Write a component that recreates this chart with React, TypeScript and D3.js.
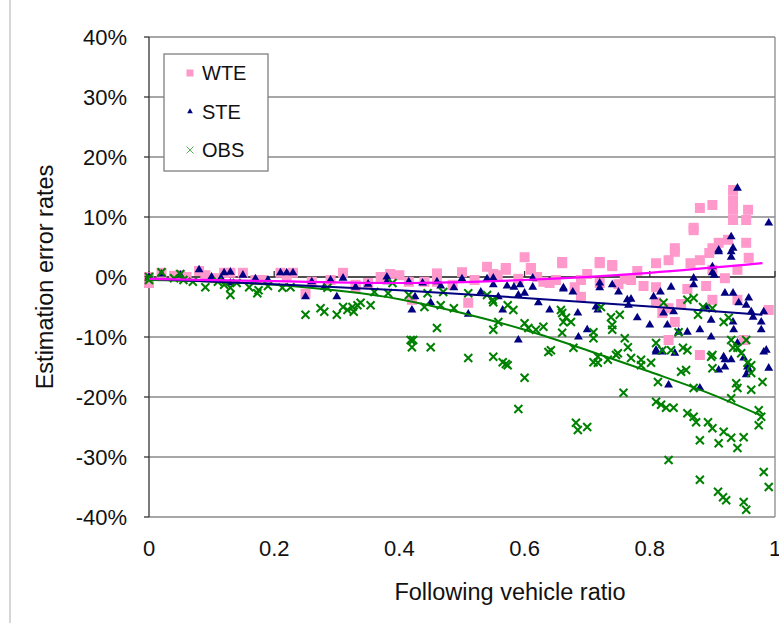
import * as d3 from "d3";

// [following vehicle ratio, estimation error %]
const wte: [number, number][] = [
  [0, 0], [0, -1], [0.02, 0.7], [0.04, 0.2], [0.05, 0.3], [0.06, 0], [0.08, 1], [0.09, 0.3], [0.105, -0.2],
  [0.12, 0.7], [0.13, 0.7], [0.15, 0.7], [0.17, -0.5], [0.18, -0.5], [0.21, 0.7], [0.22, 0.2], [0.23, 0.7],
  [0.25, -2.8], [0.26, -0.8], [0.29, -0.5], [0.31, 0.7], [0.33, -1.3], [0.33, -1.7], [0.35, -1], [0.37, 0],
  [0.385, 0.5], [0.4, 0.3], [0.415, -0.8], [0.42, -3.8], [0.44, -0.8], [0.46, -0.8], [0.46, 0.6], [0.485, -1.3],
  [0.5, 0.8], [0.51, -4.3], [0.52, -0.5], [0.54, 1.7], [0.55, 0.5], [0.557, 0.3], [0.57, 1.5], [0.57, 1.2],
  [0.59, -0.3], [0.6, 3.3], [0.61, 1.5], [0.61, 1.2], [0.62, 0], [0.63, -0.8], [0.64, -1], [0.65, -0.5],
  [0.66, 2.5], [0.66, 2.3], [0.68, -1.7], [0.69, -0.5], [0.69, -3.3], [0.7, 0.5], [0.72, 2.5], [0.72, 2.3],
  [0.72, -1], [0.74, 1.8], [0.74, 2], [0.75, -1.2], [0.76, -0.3], [0.77, -0.5], [0.78, 1], [0.79, -1.5],
  [0.81, 2.3], [0.81, -1.7], [0.81, -4.2], [0.82, -6], [0.83, 2.8], [0.83, -5.2], [0.83, -10.5], [0.84, 4.8],
  [0.84, 4.2], [0.84, -7.5], [0.85, -4.5], [0.86, -2], [0.865, 2.3], [0.87, 8.2], [0.87, 7.8], [0.88, 11.5],
  [0.88, 2.8], [0.88, -13], [0.89, -1.5], [0.895, 4], [0.9, 12], [0.9, 4.8], [0.9, 1.2], [0.9, -3.8],
  [0.91, 5.7], [0.92, -0.2], [0.925, 6.2], [0.933, 14.5], [0.933, 12.8], [0.933, 11.2], [0.933, 9.5],
  [0.94, 1.2], [0.94, -3.8], [0.95, -10.5], [0.954, 9.5], [0.954, 5.7], [0.957, 11.2], [0.958, 3.2], [0.99, -5.5],
];

const ste: [number, number][] = [
  [0, 0], [0.02, 0.5], [0.05, 0.3], [0.08, 1.2], [0.1, 0], [0.115, -0.2], [0.12, 0.7], [0.13, 0.8], [0.13, -1],
  [0.15, 0.3], [0.17, -0.3], [0.19, -0.5], [0.21, 0.7], [0.22, 0.7], [0.23, 0.7], [0.25, -3.3], [0.26, -0.8],
  [0.28, -1.7], [0.29, -0.5], [0.3, -3.3], [0.31, -0.2], [0.33, -1.7], [0.35, -1.2], [0.38, 0], [0.38, -0.8],
  [0.415, -0.8], [0.425, -3.3], [0.42, -5.5], [0.437, -1], [0.45, -4.3], [0.46, -0.8], [0.466, -1.5],
  [0.487, -1.8], [0.5, -0.3], [0.51, -6.2], [0.53, -2.5], [0.54, -0.3], [0.55, -0.2], [0.55, -1.3],
  [0.558, -3.3], [0.565, -5.5], [0.572, -1.5], [0.583, -1.7], [0.59, -3], [0.593, -1.3], [0.59, -10.5],
  [0.6, -2.7], [0.613, -0.2], [0.613, -1.7], [0.622, -4.3], [0.64, -5.5], [0.662, -2], [0.662, -1.8],
  [0.677, -2.5], [0.685, -6], [0.686, -10], [0.7, -8.8], [0.714, -5], [0.717, -5.5], [0.72, -1], [0.72, -1.8],
  [0.74, -1.3], [0.75, -2.5], [0.764, -3.8], [0.766, -4.7], [0.77, -3.7], [0.78, -6.8], [0.8, -8], [0.806, -3.3],
  [0.81, -12.2], [0.81, -12.5], [0.817, -2.5], [0.82, -12.5], [0.822, -6], [0.828, -8], [0.83, -18],
  [0.834, -1.7], [0.838, -5.8], [0.84, -12.7], [0.846, -9.2], [0.86, -9.2], [0.87, -0.2], [0.87, -1.3],
  [0.88, -8.8], [0.88, -18.5], [0.89, -5], [0.898, -7.2], [0.898, -10], [0.9, 1.7], [0.9, 0.7], [0.903, 0.3],
  [0.91, 4.2], [0.91, 4.5], [0.91, -15.5], [0.918, -13.3], [0.92, -2.7], [0.92, -13.8], [0.92, -15],
  [0.93, 4.2], [0.93, 3.3], [0.93, 6.7], [0.933, 4.8], [0.933, -2.7], [0.933, -7.5], [0.934, -8.8],
  [0.93, -13.8], [0.94, 14.8], [0.94, -11], [0.942, -4.3], [0.95, -13.5], [0.954, -4.7], [0.954, -16.3],
  [0.956, -15], [0.958, -3.5], [0.958, -15.5], [0.962, -5.8], [0.965, -6.7], [0.978, -7.5], [0.978, -8.8],
  [0.982, -5.8], [0.982, -12.5], [0.986, -12.2], [0.99, -15.2], [0.99, 9],
];

const obs: [number, number][] = [
  [0, 0], [0, -0.5], [0.02, 0.8], [0.04, -0.2], [0.05, 0.5], [0.055, -0.5], [0.07, -0.8], [0.09, -1.7],
  [0.11, -0.8], [0.12, -1.3], [0.13, -1.8], [0.13, -3], [0.14, -1], [0.16, -1.7], [0.173, -2.7], [0.175, -2.2],
  [0.19, -1.5], [0.213, -1.8], [0.226, -1.7], [0.25, -6.3], [0.274, -5.2], [0.28, -5.8], [0.285, -1.8],
  [0.3, -6.3], [0.31, -5], [0.317, -5.5], [0.325, -5], [0.327, -5.8], [0.333, -4.7], [0.338, -4.3],
  [0.354, -4.7], [0.36, -2.5], [0.382, -2.7], [0.389, -1], [0.415, -3], [0.418, -10.5], [0.42, -11.7],
  [0.422, -10.5], [0.44, -5], [0.445, -2.7], [0.45, -11.7], [0.46, -8.5], [0.466, -4.7], [0.47, -2.5],
  [0.487, -5.2], [0.51, -2.7], [0.51, -13.5], [0.54, -3], [0.549, -3.8], [0.55, -4.2], [0.55, -8.8],
  [0.55, -13.3], [0.558, -7.5], [0.565, -14.2], [0.57, -14.5], [0.573, -14.7], [0.573, -4.7], [0.582, -5.5],
  [0.59, -22], [0.6, -7.7], [0.6, -16.8], [0.606, -8.5], [0.618, -8.8], [0.63, -8.3], [0.638, -12.5],
  [0.642, -12.2], [0.658, -5.5], [0.66, -6], [0.66, -9.3], [0.662, -7.5], [0.666, -6.8], [0.674, -7.5],
  [0.678, -11.8], [0.682, -24.3], [0.685, -25.5], [0.7, -25], [0.71, -9.2], [0.71, -10.2], [0.71, -14.2],
  [0.717, -13.3], [0.717, -14.3], [0.722, -5], [0.733, -13.8], [0.738, -6.7], [0.74, -8], [0.74, -8.8],
  [0.746, -13], [0.749, -12.7], [0.752, -6.3], [0.758, -19.3], [0.76, -10.2], [0.765, -11.7], [0.77, -13.5],
  [0.786, -13.8], [0.786, -14.7], [0.802, -14.3], [0.81, -11], [0.81, -20.8], [0.813, -17.5], [0.818, -21.3],
  [0.82, -12.2], [0.822, -4.3], [0.826, -21.8], [0.83, -30.5], [0.834, -12.2], [0.838, -21.8], [0.846, -9.2],
  [0.85, -15.8], [0.853, -11.8], [0.858, -15.5], [0.86, -12.2], [0.86, -3.8], [0.86, -22.7], [0.87, -3.5],
  [0.87, -18.5], [0.87, -23.3], [0.874, -24.2], [0.877, -6.3], [0.88, -27.2], [0.88, -33.8], [0.885, -5],
  [0.893, -24.2], [0.898, -13.3], [0.9, -5.2], [0.9, -13], [0.9, -15.2], [0.9, -25.2], [0.909, -35.8],
  [0.91, -27.7], [0.917, -36.7], [0.918, -7.5], [0.918, -25.8], [0.922, -37.2], [0.926, -6.8], [0.93, -10.5],
  [0.93, -20.2], [0.93, -26.8], [0.933, -11.8], [0.938, -17.7], [0.94, -11.8], [0.94, -18.5], [0.94, -28.5],
  [0.946, -12.7], [0.95, -26.7], [0.95, -37.5], [0.954, -10.5], [0.954, -38.8], [0.956, -14.3], [0.962, -14.7],
  [0.962, -16], [0.962, -18.8], [0.974, -22.2], [0.974, -24.7], [0.978, -23.3], [0.98, -17.5], [0.982, -32.5],
  [0.99, -35],
];

// trend lines
const wteTrend: [number, number][] = [[0, -0.3], [0.2, -0.7], [0.4, -1.0], [0.6, -0.5], [0.8, 0.7], [0.98, 2.3]];
const steTrend: [number, number][] = [[0, -0.3], [0.2, -1.2], [0.4, -2.2], [0.6, -3.5], [0.8, -4.9], [0.98, -6.3]];
const obsTrend: [number, number][] = [
  [0, -0.5], [0.2, -1.3], [0.4, -3.7], [0.5, -6], [0.6, -8.8], [0.7, -12.2], [0.8, -15.8], [0.9, -19.6], [0.98, -23.2],
];

const xTicks = [0, 0.2, 0.4, 0.6, 0.8, 1];
const yTicks = [-40, -30, -20, -10, 0, 10, 20, 30, 40];
const legendNames = ["WTE", "STE", "OBS"];

const font = "Arial, 'Liberation Sans', sans-serif";

export default function App() {
  const width = 779;
  const height = 623;

  const x = d3.scaleLinear().domain([0, 1]).range([149, 775]);
  const y = d3.scaleLinear().domain([-40, 40]).range([517, 37]);

  const line = d3
    .line<[number, number]>()
    .x((d) => x(d[0]))
    .y((d) => y(d[1]))
    .curve(d3.curveMonotoneX);

  const tri = d3.symbol().type(d3.symbolTriangle).size(34)();
  const triSmall = d3.symbol().type(d3.symbolTriangle).size(14)();

  return (
    <svg width={width} height={height} style={{ position: "absolute", left: 0, top: 0 }}>
      <rect width={width} height={height} fill="white" />
      <line x1={10} y1={0} x2={10} y2={height} stroke="#c8c8c8" strokeWidth={1.5} />

      {/* gridlines */}
      {yTicks.map((t) => (
        <line key={`g${t}`} x1={x(0)} x2={x(1)} y1={y(t)} y2={y(t)} stroke="#8a8a8a" strokeWidth={1.3} />
      ))}
      <line x1={x(1)} x2={x(1)} y1={y(40)} y2={y(-40)} stroke="#8a8a8a" strokeWidth={1.3} />

      {/* y axis */}
      <line x1={x(0)} x2={x(0)} y1={y(40)} y2={y(-40)} stroke="#333" strokeWidth={1.3} />
      {yTicks.map((t) => (
        <g key={`y${t}`}>
          <line x1={x(0) - 5} x2={x(0)} y1={y(t)} y2={y(t)} stroke="#333" strokeWidth={1.3} />
          <text x={127} y={y(t)} dy="0.36em" textAnchor="end" fontSize={22} fontFamily={font} fill="#111">
            {`${t}%`}
          </text>
        </g>
      ))}

      {/* x axis at 0% */}
      <line x1={x(0)} x2={x(1)} y1={y(0)} y2={y(0)} stroke="#333" strokeWidth={1.3} />
      {xTicks.map((t) => (
        <g key={`x${t}`}>
          <line x1={x(t)} x2={x(t)} y1={y(0) - 6} y2={y(0)} stroke="#333" strokeWidth={1.3} />
          <text x={x(t)} y={556} textAnchor="middle" fontSize={22} fontFamily={font} fill="#111">
            {t}
          </text>
        </g>
      ))}

      {/* WTE */}
      {wte.map((d, i) => (
        <rect key={`w${i}`} x={x(d[0]) - 5} y={y(d[1]) - 5} width={10} height={10} fill="#ff99cc" />
      ))}
      {/* STE */}
      {ste.map((d, i) => (
        <path key={`s${i}`} d={tri} transform={`translate(${x(d[0])},${y(d[1])})`} fill="#000080" />
      ))}
      {/* OBS */}
      {obs.map((d, i) => {
        const cx = x(d[0]);
        const cy = y(d[1]);
        return (
          <path
            key={`o${i}`}
            d={`M${cx - 4},${cy - 4}L${cx + 4},${cy + 4}M${cx - 4},${cy + 4}L${cx + 4},${cy - 4}`}
            stroke="#008000"
            strokeWidth={2}
          />
        );
      })}

      {/* trend lines */}
      <path d={line(obsTrend) ?? ""} fill="none" stroke="#008000" strokeWidth={2} />
      <path d={line(steTrend) ?? ""} fill="none" stroke="#000080" strokeWidth={2} />
      <path d={line(wteTrend) ?? ""} fill="none" stroke="#ff00ff" strokeWidth={2.2} />

      {/* legend */}
      <rect x={164} y={54} width={104} height={117} fill="white" stroke="#7f7f7f" strokeWidth={1.3} />
      {legendNames.map((name, i) => {
        const cy = 73 + i * 38.5;
        return (
          <g key={name}>
            {i === 0 && <rect x={186.5} y={cy - 3.5} width={7} height={7} fill="#ff99cc" />}
            {i === 1 && <path d={triSmall} transform={`translate(190,${cy})`} fill="#000080" />}
            {i === 2 && (
              <path
                d={`M186.5,${cy - 3.5}L193.5,${cy + 3.5}M186.5,${cy + 3.5}L193.5,${cy - 3.5}`}
                stroke="#55b055"
                strokeWidth={1}
              />
            )}
            <text x={202} y={cy} dy="0.36em" fontSize={20} fontFamily={font} fill="#111">
              {name}
            </text>
          </g>
        );
      })}

      {/* axis titles */}
      <text x={510} y={600} textAnchor="middle" fontSize={23.5} fontFamily={font} fill="#111">
        Following vehicle ratio
      </text>
      <text
        transform={`translate(53,277) rotate(-90)`}
        textAnchor="middle"
        fontSize={23.5}
        fontFamily={font}
        fill="#111"
      >
        Estimation error rates
      </text>
    </svg>
  );
}
